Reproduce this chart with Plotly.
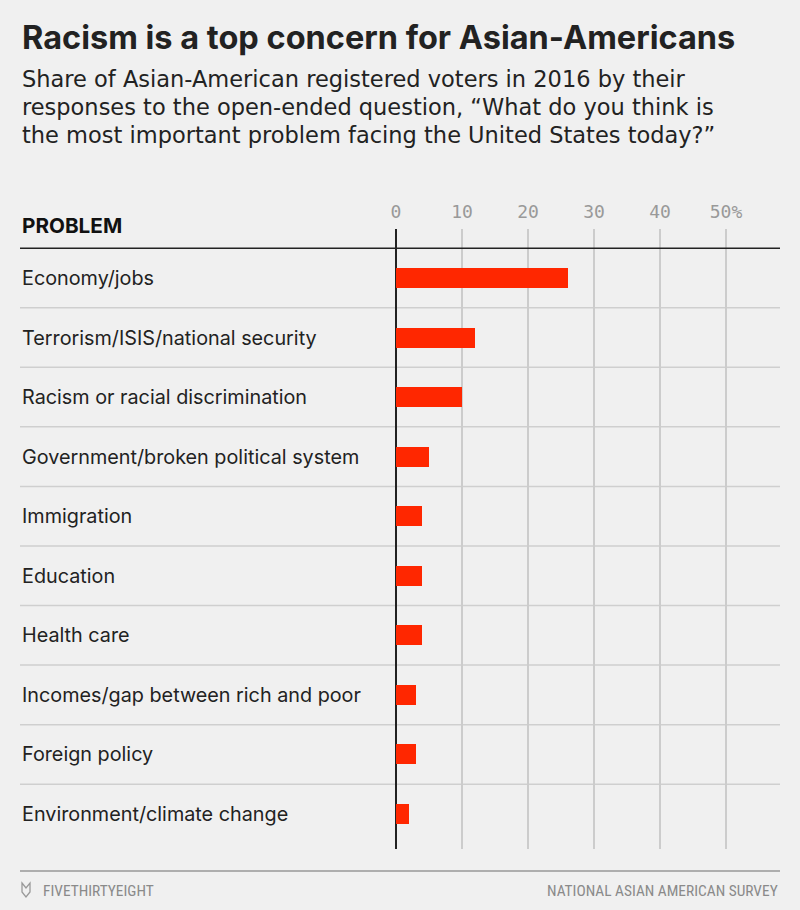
import plotly.graph_objects as go

#----------------------------------------------------------------------
# Data
#----------------------------------------------------------------------

problems = ["Economy/jobs", "Terrorism/ISIS/national security", "Racism or racial discrimination",
            "Government/broken political system", "Immigration", "Education", "Health care",
            "Incomes/gap between rich and poor", "Foreign policy", "Environment/climate change"]
share = [26, 12, 10, 5, 4, 4, 4, 3, 3, 2]

tick_vals = [0, 10, 20, 30, 40, 50]
tick_text = ["0", "10", "20", "30", "40", "50%"]

title = "Racism is a top concern for Asian-Americans"
subtitle = ["Share of Asian-American registered voters in 2016 by their",
            "responses to the open-ended question, \u201cWhat do you think is",
            "the most important problem facing the United States today?\u201d"]
source = "NATIONAL ASIAN AMERICAN SURVEY"
brand = "FIVETHIRTYEIGHT"

#----------------------------------------------------------------------

W, H = 800, 910
top, bot = 229, 849          # plot area in pixels
ph = bot - top
def py(y):                   # pixel row -> paper y
    return (bot - y) / ph

bg = "#F0F0F0"
red = "#FF2700"
txt = "Inter"
cond = "Roboto Condensed, Liberation Sans Narrow, Roboto"

rows = list(range(len(problems)))

fig = go.Figure()

fig.add_trace(go.Bar(x = share, y = rows, orientation = "h", width = 0.336,
                     marker = dict(color = red, line = dict(width = 0)),
                     hoverinfo = "x+text", text = problems, textposition = "none"))

#----------------------------------------------------------------------
# row labels, header, separators
#----------------------------------------------------------------------

ann = []
for i in rows:
    ann.append(dict(x = 0, y = i, xref = "paper", yref = "y", text = problems[i], showarrow = False,
                    xanchor = "left", yanchor = "middle", xshift = 0,
                    font = dict(family = txt, size = 19.8, color = "#222222")))

ann.append(dict(x = 0, y = py(225), xref = "paper", yref = "paper", text = "<b>PROBLEM</b>", showarrow = False,
                xanchor = "left", yanchor = "middle", xshift = 0,
                font = dict(family = txt, size = 20.7, color = "#111111")))

ann.append(dict(x = 0, y = py(37), xref = "paper", yref = "paper", text = "<b>" + title + "</b>", showarrow = False,
                xanchor = "left", yanchor = "middle", xshift = 0,
                font = dict(family = txt, size = 32.5, color = "#222222")))

for k, line in enumerate(subtitle):
    ann.append(dict(x = 0, y = py(79 + 28*k), xref = "paper", yref = "paper", text = line, showarrow = False,
                    xanchor = "left", yanchor = "middle", xshift = 0,
                    font = dict(family = "DejaVu Sans", size = 22.5, color = "#222222")))

ann.append(dict(x = 0, y = py(891), xref = "paper", yref = "paper", text = brand, showarrow = False,
                xanchor = "left", yanchor = "middle", xshift = 21,
                font = dict(family = cond, size = 15.4, color = "#8a8a8a")))
ann.append(dict(x = 1, y = py(891), xref = "paper", yref = "paper", text = source, showarrow = False,
                xanchor = "right", yanchor = "middle",
                font = dict(family = cond, size = 15.4, color = "#8a8a8a")))

shapes = []
for i in rows[:-1]:
    shapes.append(dict(type = "line", xref = "paper", yref = "y", x0 = 0, x1 = 1, y0 = i + 0.5, y1 = i + 0.5,
                       line = dict(color = "#CFCFCF", width = 1.5), layer = "below"))
shapes.append(dict(type = "line", xref = "paper", yref = "y", x0 = 0, x1 = 1, y0 = -0.5, y1 = -0.5,
                   line = dict(color = "#222222", width = 1.5)))
# footer rule
shapes.append(dict(type = "line", xref = "paper", yref = "paper", x0 = 0, x1 = 1, y0 = py(871), y1 = py(871),
                   line = dict(color = "#999999", width = 1.5)))
# little fox-head mark
lx0 = 2 / 760; lx1 = 10 / 760; lxm = (lx0 + lx1) / 2
shapes.append(dict(type = "path", xref = "paper", yref = "paper",
                   path = "M %f %f L %f %f L %f %f L %f %f L %f %f L %f %f Z" % (
                       lx0, py(883), lxm, py(888), lx1, py(883),
                       lx1, py(892), lxm, py(897), lx0, py(892)),
                   line = dict(color = "#999999", width = 1.3), fillcolor = "rgba(0,0,0,0)"))

#----------------------------------------------------------------------

x_lo = -(396 - 20) / 6.6
x_hi = (780 - 396) / 6.6
y_lo = 9 + (bot - 814) / 59.6
y_hi = -(278 - top) / 59.6

fig.update_layout(width = W, height = H, paper_bgcolor = bg, plot_bgcolor = bg,
                  margin = dict(l = 20, r = 20, t = top, b = H - bot),
                  showlegend = False, annotations = ann, shapes = shapes,
                  bargap = 0)

fig.update_xaxes(range = [x_lo, x_hi], side = "top", tickvals = tick_vals, ticktext = tick_text,
                 showgrid = True, gridcolor = "#CCCCCC", gridwidth = 1.5,
                 zeroline = True, zerolinecolor = "#222222", zerolinewidth = 1.5,
                 showline = False, ticks = "", ticklabelstandoff = 6,
                 tickfont = dict(family = "DejaVu Sans Mono", size = 18, color = "#999999"),
                 fixedrange = True)
fig.update_yaxes(range = [y_lo, y_hi], showgrid = False, zeroline = False, showticklabels = False,
                 showline = False, fixedrange = True)

# page has a default 8px body margin, drop it so the figure sits at 0,0
fig.write_html("out.html", config = {"displayModeBar": False},
               post_script = "document.body.style.margin = '0';")
